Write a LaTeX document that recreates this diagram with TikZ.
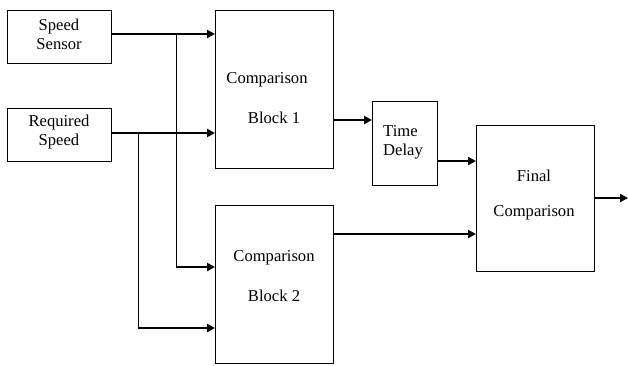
\documentclass[tikz,border=0pt]{standalone}
\usepackage{fontspec}
\setmainfont{Liberation Serif}
\usetikzlibrary{arrows.meta}
\begin{document}
\begin{tikzpicture}[x=1pt,y=-1pt,
  box/.style={draw,line width=1pt,inner sep=0pt,anchor=north west},
  lbl/.style={inner sep=0pt,font=\fontsize{16.6}{19}\selectfont,align=center},
  arr/.style={line width=2pt,-{Triangle[length=8pt,width=8pt]}},
  wire/.style={line width=1pt}]
\useasboundingbox (0,0) rectangle (628,365);
% blocks
\node[box,minimum width=104pt,minimum height=53pt] (ss) at (7,10) {};
\node[box,minimum width=104pt,minimum height=53pt] (rs) at (7,108) {};
\node[box,minimum width=118pt,minimum height=158pt] (cb1) at (215,10) {};
\node[box,minimum width=118pt,minimum height=158pt] (cb2) at (215,205) {};
\node[box,minimum width=65pt,minimum height=84pt] (td) at (372,101) {};
\node[box,minimum width=118pt,minimum height=146pt] (fc) at (476,125) {};
% labels
\node[lbl] (ssl) at (59,34) {Speed\\Sensor};
\node[lbl] (rsl) at (59,132) {Required\\Speed};
\node[lbl] (cb1a) at (267,80) {Comparison};
\node[lbl] (cb1b) at (274,118) {Block 1};
\node[lbl] (cb2a) at (274,258) {Comparison};
\node[lbl] (cb2b) at (274,296) {Block 2};
\node[lbl,align=left,anchor=west] (tdl) at (383,142) {Time\\Delay};
\node[lbl] (fca) at (534,176) {Final};
\node[lbl] (fcb) at (534,213) {Comparison};
% connection points
\coordinate (j1) at (176,34);
\coordinate (j2) at (138,133);
\coordinate (k1) at (176,267);
\coordinate (k2) at (138,328);
\coordinate (o1) at (333,120);
\coordinate (o2) at (437,161);
\coordinate (o3) at (333,234);
\coordinate (o4) at (594,198);
\coordinate (out) at (628,198);
% connectors
\draw[arr] (ss.east |- j1) -- (cb1.west |- j1);
\draw[arr] (rs.east |- j2) -- (cb1.west |- j2);
\draw[wire] (j1) -- (k1);
\draw[wire] (j2) -- (k2);
\draw[arr] (k1) -- (cb2.west |- k1);
\draw[arr] (k2) -- (cb2.west |- k2);
\draw[arr] (o1) -- (td.west |- o1);
\draw[arr] (o2) -- (fc.west |- o2);
\draw[arr] (o3) -- (fc.west |- o3);
\draw[arr] (o4) -- (out);
\end{tikzpicture}
\end{document}
